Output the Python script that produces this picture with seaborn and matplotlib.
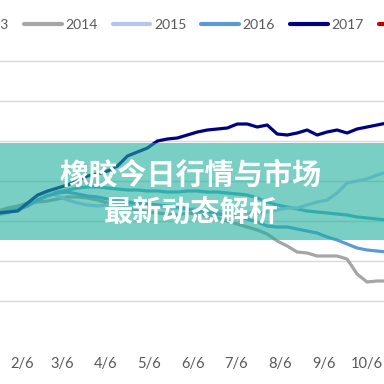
import matplotlib
matplotlib.use("Agg")
import matplotlib.pyplot as plt
from matplotlib.lines import Line2D
from matplotlib.patches import Rectangle
import seaborn as sns
import pandas as pd

# ---------------- data ----------------
# weekly observation dates as day-of-year
day_of_year = [20, 27, 34, 41, 48, 55, 62, 69, 76, 83, 90, 97, 104, 111, 118, 125,
               132, 139, 146, 153, 160, 167, 174, 181, 188, 195, 202, 209, 216, 223,
               230, 237, 244, 251, 258, 265, 272, 279, 286, 293]

y2013 = [12450, 12550, 12700, 12850, 13100, 13300, 13450, 13550, 13650, 13700,
         13700, 13650, 13600, 13550, 13550, 13500, 13500, 13450, 13450, 13500,
         13500, 13450, 13450, 13400, 13350, 13300, 13150, 12950, 12800, 12700,
         12600, 12500, 12450, 12400, 12350, 12300, 12200, 12150, 12100, 12050]
y2014 = [12500, 12650, 12750, 12900, 12950, 13000, 13100, 13200, 13200, 13150,
         13050, 12900, 12800, 12650, 12550, 12450, 12400, 12350, 12300, 12400,
         12350, 12250, 12150, 12000, 11850, 11700, 11550, 11350, 11000, 10750,
         10450, 10400, 10250, 10250, 10250, 10100, 9350, 8950, 9000, 9000]
y2015 = [12300, 12400, 12550, 12800, 13200, 13450, 13250, 13050, 12900, 12800,
         12750, 12800, 12850, 12850, 12800, 12750, 12700, 12650, 12650, 12600,
         12600, 12550, 12500, 12450, 12450, 12400, 12400, 12450, 12550, 12650,
         12650, 12800, 12950, 13050, 13400, 13900, 14000, 14100, 14300, 14450]
y2016 = [12350, 12450, 12550, 12750, 13050, 13250, 13400, 13450, 13350, 13250,
         13200, 13100, 13050, 12950, 12900, 12850, 12800, 12750, 12700, 12600,
         12500, 12450, 12350, 12300, 12200, 12100, 11950, 11750, 11700, 11700,
         11600, 11500, 11400, 11200, 11050, 10850, 10650, 10550, 10500, 10450]
y2017 = [12400, 12450, 12500, 12900, 13300, 13500, 13650, 13800, 14000, 14250,
         14350, 14500, 14750, 15250, 15450, 15650, 16000, 16100, 16150, 16300,
         16450, 16550, 16600, 16650, 16850, 16850, 16700, 16800, 16350, 16300,
         16400, 16550, 16300, 16450, 16550, 16400, 16600, 16700, 16800, 16900]

series_names = ["2013", "2014", "2015", "2016", "2017", "2018"]
series_colors = ["#4BACC6", "#A5A5A5", "#B4C7E7", "#5B9BD5", "#000080", "#C00000"]

tick_days = [6, 37, 65, 96, 126, 157, 187, 218, 249, 279, 310, 340]
tick_labels = ["1/6", "2/6", "3/6", "4/6", "5/6", "6/6", "7/6", "8/6", "9/6",
               "10/6", "11/6", "12/6"]
grid_values = [8000, 10000, 12000, 14000, 16000, 18000, 20000]

title_line1 = "橡胶今日行情与市场"
title_line2 = "最新动态解析"

# ---------------- build table ----------------
frames = []
for name, vals in zip(series_names[:5], [y2013, y2014, y2015, y2016, y2017]):
    frames.append(pd.DataFrame({"day": day_of_year, "price": vals, "year": name}))
df = pd.concat(frames, ignore_index=True)

# ---------------- plot ----------------
sns.set_style("white")
plt.rcParams["font.family"] = ["Lato", "DejaVu Sans"]

fig = plt.figure(figsize=(3.84, 3.84), dpi=100)
ax = fig.add_axes([0.0, 83 / 384, 1.0, 240 / 384])

palette = dict(zip(series_names, series_colors))
sns.lineplot(data=df, x="day", y="price", hue="year",
             hue_order=series_names[:5], palette=palette,
             linewidth=2.3, legend=False, ax=ax)

ax.set_yticks(grid_values)
ax.set_yticklabels([])
ax.tick_params(axis="y", length=0)
ax.set_xticks(tick_days)
ax.set_xticklabels(tick_labels)
ax.set_xlim(21.6, 290.9)
ax.set_ylim(grid_values[0], grid_values[-1])
ax.tick_params(axis="x", length=0, pad=40, labelsize=10.5, labelcolor="#595959")
ax.set_xlabel("")
ax.set_ylabel("")
for s in ax.spines.values():
    s.set_visible(False)
ax.grid(axis="y", color="#D9D9D9", linewidth=1.0)
ax.grid(axis="x", visible=False)
for gl in ax.get_ygridlines():
    gl.set_clip_on(False)
ax.set_axisbelow(True)

# legend
handles = [Line2D([0], [0], color=c, linewidth=3) for c in series_colors]
fig.legend(handles, series_names, loc="center", bbox_to_anchor=(0.5046, 0.935),
           ncol=6, frameon=False, fontsize=10, labelcolor="#595959",
           handlelength=2.7, handletextpad=0.25, columnspacing=1.1)

# banner overlay
fig.patches.append(Rectangle((0, 144 / 384), 1, 97 / 384, transform=fig.transFigure,
                             facecolor="#21AF9E", alpha=0.6, edgecolor="none",
                             zorder=5))
fig.text(0.497, 1 - 175 / 384, title_line1, ha="center", va="center",
         color="white", fontsize=21, fontweight="bold",
         family=["Noto Sans CJK SC", "DejaVu Sans"], zorder=6)
fig.text(0.497, 1 - 212 / 384, title_line2, ha="center", va="center",
         color="white", fontsize=21, fontweight="bold",
         family=["Noto Sans CJK SC", "DejaVu Sans"], zorder=6)

fig.savefig("out.png", dpi=100)
